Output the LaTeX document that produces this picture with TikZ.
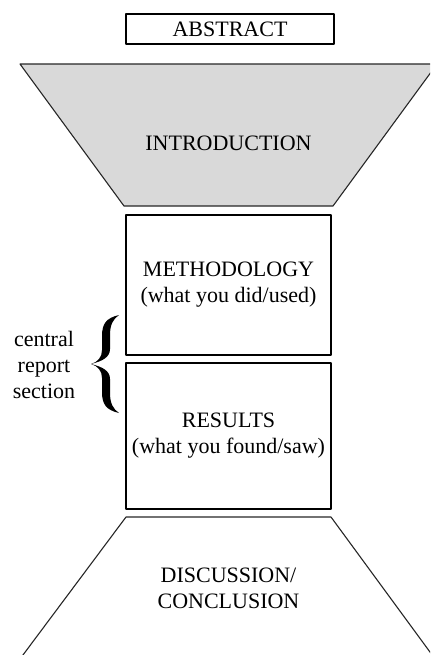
\documentclass[tikz,border=0pt]{standalone}
\usepackage{fontspec}
\setmainfont{Liberation Serif}
\begin{document}
\begin{tikzpicture}[line join = round, line cap = round, x=0.5pt, y=-0.5pt,
		font=\fontsize{11}{13}\selectfont,
		box/.style={draw, line width=1.1pt, inner sep=0pt, align=center},
		funnel/.style={draw=black!85, line width=0.55pt},
		lbl/.style={inner sep=0pt, align=center}]
		\def \W{430};
		\def \H{655};
		\useasboundingbox (0,0) rectangle (\W,\H);
		\clip (0,0) rectangle (\W,\H);
		% top of the funnel
		\node[box, minimum width=104pt, minimum height=15pt] (abstract) at (230,29) {ABSTRACT};
		\filldraw[funnel, fill=black!15] (20,64) -- (437,64) -- (333,206) -- (124,206) -- cycle;
		\node[lbl] (intro) at (228.5,143.7) {INTRODUCTION};
		% central part
		\node[box, minimum width=102.5pt, minimum height=70pt] (method) at (228.5,285) {METHODOLOGY\\(what you did/used)};
		\node[box, minimum width=102.5pt, minimum height=73pt] (results) at (228.5,436) {RESULTS\\(what you found/saw)};
		% bottom of the funnel
		\draw[funnel] (15.5,665) -- (126,517) -- (331,517) -- (439.5,665);
		\node[lbl] (discussion) at (228.5,588.7) {DISCUSSION/\\CONCLUSION};
		% side note with its brace
		\fill (119,315) .. controls (106,318) and (102,324) .. (102,336) -- (102,350)
			.. controls (102,357) and (98,362) .. (91,364)
			.. controls (98,366) and (102,371) .. (102,378) -- (102,392)
			.. controls (102,404) and (106,410) .. (119,413)
			.. controls (113,409) and (110,403) .. (110,393) -- (110,379)
			.. controls (110,371) and (103,367) .. (91,364)
			.. controls (103,361) and (110,357) .. (110,349) -- (110,335)
			.. controls (110,325) and (113,319) .. (119,315) -- cycle;
		\node[lbl] (central) at (44,365) {central\\report\\section};
\end{tikzpicture}
\end{document}
